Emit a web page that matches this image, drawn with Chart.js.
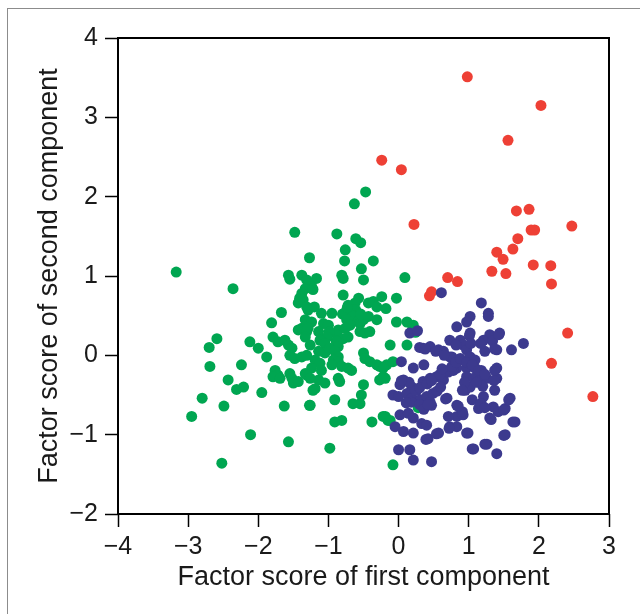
<!DOCTYPE html>
<html lang="en">
<head>
<meta charset="UTF-8">
<title>Factor scores</title>
<script src="https://cdn.jsdelivr.net/npm/chart.js@4.4.0/dist/chart.umd.min.js"></script>
<style>
    body { margin: 0; background: #fff; }
    #wrap { position: relative; width: 640px; height: 614px; overflow: hidden; }
    #frame { position: absolute; left: 7px; top: 8px; width: 700px; height: 700px; border: 1.5px solid #8c8c8c; }
    #myChart { position: absolute; left: 0; top: 0; }
</style>
</head>
<body>
<div id="wrap">
    <div id="frame"></div>
    <canvas id="myChart" width="640" height="614"></canvas>
</div>

<script>
// scores, [first component, second component]
var greenPoints = [
    [-3.17,1.05],[-2.36,0.84],[-1.48,1.55],[-0.88,1.53],[-0.47,2.06],[-0.63,1.91],[-1.27,1.23],[-0.76,1.33],
    [-0.77,1.19],[-0.61,1.47],[-0.54,1.42],[-0.36,1.19],[-0.53,1.09],[-0.50,0.95],[-0.81,1.01],[-0.79,0.97],
    [-1.57,1.01],[-1.55,0.96],[-1.38,1.01],[-1.17,0.97],[0.09,0.98],[-1.24,0.87],[-1.31,0.95],
    [-1.33,0.84],[-1.38,0.78],[-1.41,0.72],[-1.43,0.66],[-1.36,0.70],[-1.31,0.61],[-1.67,0.54],[-1.81,0.41],
    [-1.43,0.32],[-1.38,0.34],[-1.31,0.30],[-1.22,0.83],[-1.20,0.61],
    [-2.59,0.21],[-2.70,0.10],[-2.69,-0.14],[-2.24,-0.12],[-2.12,0.17],[-2.00,0.09],[-1.88,-0.02],[-2.43,-0.31],
    [-2.31,-0.43],[-2.21,-0.40],[-1.95,-0.47],[-2.80,-0.54],[-2.49,-0.64],[-2.95,-0.77],[-1.63,-0.64],[-1.27,-0.63],
    [-2.11,-1.00],[-1.57,-1.09],[-2.52,-1.36],
    [-1.79,0.23],[-1.72,0.17],[-1.62,0.19],[-1.57,0.13],[-1.52,0.09],[-1.55,0.00],[-1.48,-0.04],[-1.38,-0.02],[-1.31,0.00],
    [-1.76,-0.19],[-1.72,-0.25],[-1.79,-0.27],[-1.69,-0.29],[-1.55,-0.23],[-1.52,-0.29],[-1.50,-0.35],[-1.43,-0.33],[-1.31,-0.25],
    [-0.79,0.76],[-0.57,0.72],[-0.62,0.66],[-0.72,0.63],[-0.74,0.57],[-0.43,0.66],[-0.36,0.68],[-0.24,0.74],
    [-0.03,0.72],[-0.31,0.61],[-0.18,0.59],
    [-1.29,0.57],[-1.10,0.53],[-0.95,0.53],[-1.33,0.45],[-1.24,0.42],[-1.07,0.40],[-1.00,0.38],[-0.67,0.49],
    [-0.57,0.45],[-0.55,0.40],[-0.50,0.45],[-0.31,0.45],[-0.03,0.42],[0.12,0.42],[0.21,0.38],
    [-0.61,0.57],[-0.54,0.52],[-0.69,0.52],[-0.80,0.52],[-0.73,0.60],[-0.43,0.49],
    [-0.74,0.45],[-0.69,0.38],[-0.76,0.34],[-0.86,0.32],[-0.88,0.26],[-0.79,0.21],[-0.72,0.23],[-0.55,0.30],
    [-0.48,0.28],[-0.41,0.30],[-1.14,0.30],[-1.29,0.34],[-1.33,0.23],[-0.99,0.30],[-1.02,0.23],[-0.89,0.18],
    [-1.12,0.19],[-1.05,0.15],[-0.98,0.09],[-1.05,0.03],[-1.14,0.05],[-1.26,0.13],[-0.88,0.17],[-0.86,0.11],
    [-0.91,0.05],[-0.86,-0.02],[-0.93,-0.06],[-0.86,-0.08],
    [-1.19,-0.06],[-1.12,-0.10],[-1.24,-0.16],[-1.10,-0.19],[-0.95,-0.12],[-0.81,-0.14],[-0.72,-0.16],[-0.67,-0.19],
    [-1.33,-0.23],[-1.26,-0.29],[-1.14,-0.31],[-1.05,-0.35],[-1.19,-0.42],[-0.86,-0.29],[-0.84,-0.33],
    [-0.50,0.03],[-0.48,-0.04],[-0.41,-0.08],[-0.31,-0.12],[-0.27,-0.14],[-0.17,-0.12],[-0.08,-0.08],[-0.22,-0.16],
    [-0.12,0.13],[0.12,0.13],[-0.19,-0.29],[-0.27,-0.31],[-0.22,-0.27],[0.20,0.33],[0.24,0.29],
    [-0.50,-0.37],[-0.53,-0.50],[-0.65,-0.61],[-0.55,-0.61],[-0.91,-0.56],[-1.26,-0.63],[-1.22,-0.44],
    [-0.38,-0.84],[-0.22,-0.77],[-0.15,-0.82],[-0.91,-0.84],[-0.81,-0.82],[-0.98,-1.17],[-0.08,-1.38],
    [0.28,-0.66],[-0.19,-0.77],[-0.12,-0.82]
];

var purplePoints = [
    [0.61,0.79],[1.18,0.66],[1.28,0.53],[1.28,0.49],[1.02,0.49],[0.97,0.42],[0.83,0.36],[1.02,0.28],
    [1.30,0.26],[1.44,0.28],[1.78,0.15],[1.61,0.07],[1.21,0.19],[1.40,0.07],[1.23,0.05],
    [0.73,0.19],[0.88,0.19],[0.92,0.13],[0.97,0.07],[0.73,-0.02],[0.88,-0.06],[1.02,-0.02],[1.09,-0.06],
    [0.83,-0.16],[0.97,-0.16],[1.09,-0.16],[1.18,-0.19],[1.40,-0.16],[1.40,-0.29],
    [0.97,-0.27],[1.07,-0.29],[1.16,-0.31],[1.26,-0.29],[0.95,-0.44],[1.02,-0.40],[1.37,-0.44],
    [1.21,-0.52],[1.18,-0.61],[1.14,-0.67],[0.83,-0.63],[1.35,-0.65],[1.42,-0.71],[1.52,-0.67],[1.59,-0.54],
    [1.30,-0.79],[1.66,-0.84],[0.83,-0.77],[0.92,-0.75],[0.73,-0.90],[0.83,-0.90],[0.99,-0.98],[1.52,-1.00],
    [1.26,-1.12],[1.07,-1.18],[1.40,-1.24],
    [0.16,0.28],[0.27,0.31],[0.35,0.09],[0.45,0.11],[0.57,0.07],[0.64,0.05],[0.76,-0.02],
    [0.04,-0.08],[0.21,-0.16],[0.07,-0.31],[0.02,-0.37],[0.19,-0.40],[0.26,-0.44],[0.35,-0.33],[0.45,-0.29],
    [0.54,-0.27],[0.64,-0.31],[0.71,-0.21],[0.78,-0.19],
    [-0.08,-0.50],[0.00,-0.52],[0.12,-0.48],[0.19,-0.54],[0.31,-0.56],[0.40,-0.52],[0.45,-0.59],[0.49,-0.48],
    [0.47,-0.63],[0.69,-0.54],
    [0.02,-0.75],[0.14,-0.73],[0.21,-0.79],[-0.05,-0.90],[0.07,-0.96],[0.21,-0.98],[0.33,-0.86],[0.40,-0.88],
    [0.42,-1.05],[0.57,-0.98],[0.71,-0.77],[0.00,-1.19],[0.16,-1.19],[0.21,-1.32],[0.47,-1.34],
    [0.36,-0.12],[0.30,0.10],[0.38,0.08],[0.53,0.05],[0.65,0.00],[0.67,-0.19],[0.76,-0.14],[0.82,-0.09],
    [0.88,-0.04],[0.97,-0.09],[1.05,-0.12],[1.14,-0.19],[1.23,-0.24],[1.37,-0.19],[1.36,-0.32],[1.20,-0.39],
    [1.11,-0.34],[0.94,-0.34],[0.91,-0.44],[1.05,-0.56],[1.17,-0.61],[1.23,-0.66],[1.57,-0.56],[1.50,-0.69],
    [1.32,-0.81],[1.63,-0.84],[1.50,-1.01],[1.23,-1.12],[1.05,-1.18],[0.97,-0.98],[0.91,-0.71],[0.85,-0.64],
    [0.72,-0.92],[0.67,-0.55],[0.54,-0.99],[0.39,-1.06],
    [0.24,-0.44],[0.30,-0.41],[0.41,-0.36],[0.47,-0.32],[0.59,-0.24],[0.62,-0.17],
    [0.18,-0.59],[0.11,-0.60],[0.30,-0.62],[0.36,-0.68],[0.42,-0.62],[0.55,-0.45],[0.60,-0.40],
    [1.01,0.25],[0.82,0.13],[1.03,0.15],[1.17,0.15],[1.34,0.18],[1.37,0.08],[1.43,0.26],[0.15,-0.34],[0.04,-0.32]
];

var redPoints = [
    [0.98,3.51],[2.03,3.15],[1.56,2.71],[-0.24,2.46],[0.04,2.34],[1.68,1.82],[1.86,1.84],[0.22,1.65],
    [2.47,1.63],[1.89,1.58],[1.94,1.58],[1.70,1.47],[1.63,1.34],[1.40,1.30],[1.49,1.21],[1.33,1.06],
    [1.53,1.03],[1.92,1.14],[2.17,1.13],[2.18,0.90],[0.70,0.98],[0.84,0.93],[0.47,0.80],[0.44,0.75],
    [2.41,0.28],[2.18,-0.10],[2.77,-0.52]
];

var xTicks = [-4, -3, -2, -1, 0, 1, 2, 3];
var yTicks = [-2, -1, 0, 1, 2, 3, 4];

function toXY(list) {
    return list.map(function (p) { return { x: p[0], y: p[1] }; });
}

function minusLabel(value) {
    return value < 0 ? '\u2212' + Math.abs(value) : String(value);
}

var fontName = "'Liberation Sans', Arial, sans-serif";

// box around the plot area (chart.js only draws left/bottom)
var boxPlugin = {
    id: 'box',
    afterDraw: function (chart) {
        var a = chart.chartArea;
        var c = chart.ctx;
        c.save();
        c.strokeStyle = '#000';
        c.lineWidth = 2;
        c.strokeRect(a.left, a.top, a.right - a.left, a.bottom - a.top);
        c.restore();
    }
};

function axisOpts(ticks, title, titlePad, side) {
    return {
        type: 'linear',
        min: ticks[0],
        max: ticks[ticks.length - 1],
        afterBuildTicks: function (s) { s.ticks = ticks.map(function (v) { return { value: v }; }); },
        afterFit: function (s) {
            if (side == 'x') s.height = 100; else s.width = 118;
        },
        border: { display: false },
        grid: {
            drawOnChartArea: false,
            drawTicks: true,
            tickLength: 13,
            tickWidth: 1.5,
            tickColor: '#000'
        },
        ticks: {
            color: '#1a1a1a',
            padding: side == 'x' ? 5 : 7,
            font: { family: fontName, size: 25 },
            callback: minusLabel
        },
        title: {
            display: true,
            text: title,
            color: '#1a1a1a',
            font: { family: fontName, size: 27 },
            padding: titlePad
        }
    };
}

var ctx = document.getElementById('myChart').getContext('2d');
var myChart = new Chart(ctx, {
    type: 'scatter',
    data: {
        datasets: [
            { label: 'purple', data: toXY(purplePoints), backgroundColor: '#3c3a8e' },
            { label: 'red', data: toXY(redPoints), backgroundColor: '#ee4035' },
            { label: 'green', data: toXY(greenPoints), backgroundColor: '#00a651' }
        ]
    },
    options: {
        responsive: false,
        animation: false,
        layout: { padding: { left: 0, top: 38, right: 31, bottom: 0 } },
        elements: { point: { radius: 5.5, hoverRadius: 5.5, borderWidth: 0 } },
        plugins: { legend: { display: false }, tooltip: { enabled: false } },
        scales: {
            x: axisOpts(xTicks, 'Factor score of first component', { top: 0, bottom: 20 }, 'x'),
            y: axisOpts(yTicks, 'Factor score of second component', { top: 33, bottom: 0 }, 'y')
        }
    },
    plugins: [boxPlugin]
});
</script>
</body>
</html>
